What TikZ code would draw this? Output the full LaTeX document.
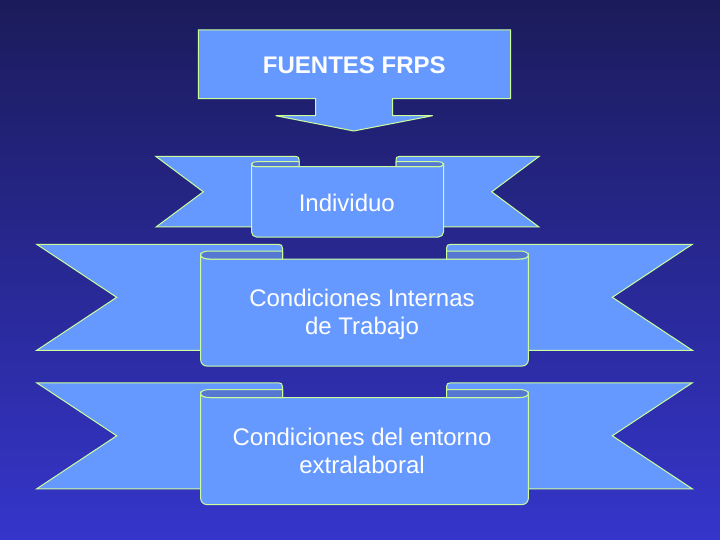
\documentclass[tikz,border=0pt]{standalone}
\usepackage{fontspec}
\setmainfont{Liberation Sans}
\definecolor{bgtop}{HTML}{1B1B5B}
\definecolor{bgmid}{HTML}{2828A4}
\definecolor{bgbot}{HTML}{3535CB}
\definecolor{ribfill}{HTML}{6699FF}
\definecolor{ribfold}{HTML}{5579D2}
\definecolor{ribline}{HTML}{CCFF99}
\tikzset{
  shp/.style={fill=ribfill, draw=ribline, line width=1pt, line join=miter},
  foldsty/.style={shp, fill=ribfold},
  lbl/.style={text=white, font=\fontsize{24}{28.3}\selectfont, align=center, inner sep=0pt}
}
\newcommand\drawribbon{%
  % tails
  \draw[shp] (\xL,\tT) -- ({\fIL-\cc},\tT) .. controls ({\fIL-0.3*\cc},\tT) and (\fIL,{\tT+0.3*\cc}) .. (\fIL,{\tT+\cc})
     -- (\fIL,\tB) -- (\xL,\tB) -- ({\xL+\ins},\ny) -- cycle;
  \draw[shp] (\xR,\tT) -- ({\fIR+\cc},\tT) .. controls ({\fIR+0.3*\cc},\tT) and (\fIR,{\tT+0.3*\cc}) .. (\fIR,{\tT+\cc})
     -- (\fIR,\tB) -- (\xR,\tB) -- ({\xR-\ins},\ny) -- cycle;
  % panel
  \draw[shp] (\pL,\pM) -- (\pL,{\pB-\rc}) .. controls (\pL,{\pB-0.45*\rc}) and ({\pL+0.45*\rc},\pB) .. ({\pL+\rc},\pB)
     -- ({\pR-\rc},\pB) .. controls ({\pR-0.45*\rc},\pB) and (\pR,{\pB-0.45*\rc}) .. (\pR,{\pB-\rc})
     -- (\pR,\pM) .. controls (\pR,{\pM+0.6*\hh}) and ({\pR-0.4*\aa},\pT) .. ({\pR-\aa},\pT)
     -- ({\pL+\aa},\pT) .. controls ({\pL+0.4*\aa},\pT) and (\pL,{\pM+0.6*\hh}) .. (\pL,\pM) -- cycle;
  % folds
  \draw[foldsty] (\fIL,\pT) -- (\fIL,\fT) -- ({\pL+\aa},\fT) .. controls ({\pL+0.4*\aa},\fT) and (\pL,{\pM-0.6*\hh}) .. (\pL,\pM)
     .. controls (\pL,{\pM+0.6*\hh}) and ({\pL+0.4*\aa},\pT) .. ({\pL+\aa},\pT) -- cycle;
  \draw[foldsty] (\fIR,\pT) -- (\fIR,\fT) -- ({\pR-\aa},\fT) .. controls ({\pR-0.4*\aa},\fT) and (\pR,{\pM-0.6*\hh}) .. (\pR,\pM)
     .. controls (\pR,{\pM+0.6*\hh}) and ({\pR-0.4*\aa},\pT) .. ({\pR-\aa},\pT) -- cycle;
}
\begin{document}
\begin{tikzpicture}[x=1pt,y=-1pt]
\shade[top color=bgtop, middle color=bgmid, bottom color=bgbot] (0,0) rectangle (720,540);
\useasboundingbox (0,0) rectangle (720,540);

% top callout
\draw[shp] (198.3,30) -- (510.7,30) -- (510.7,98.7) -- (392.7,98.7) -- (392.7,115.7) -- (432.7,115.7)
  -- (353.8,131) -- (275.7,115.7) -- (315.7,115.7) -- (315.7,98.7) -- (198.3,98.7) -- cycle;
\node[lbl, font=\fontsize{24}{28.3}\selectfont\bfseries, anchor=base] (fuentes) at (354.3,73.3) {FUENTES FRPS};

% ribbon 1
\def\xL{156}\def\xR{539}\def\pL{251.5}\def\pR{443.5}\def\fIL{299}\def\fIR{396}\def\ins{47.3}
\def\tT{156.5}\def\fT{161.7}\def\pT{166.7}\def\pM{164.2}\def\hh{2.5}\def\tB{227}\def\pB{237}\def\ny{191.8}
\def\aa{6}\def\cc{3}\def\rc{5}
\drawribbon
\node[lbl, anchor=base] (individuo) at (346.8,211.7) {Individuo};

% ribbon 2
\def\xL{36.7}\def\xR{692.3}\def\pL{200.7}\def\pR{528.3}\def\fIL{282.5}\def\fIR{446.5}\def\ins{80}
\def\tT{244.3}\def\fT{251}\def\pT{259}\def\pM{255}\def\hh{4}\def\tB{350.3}\def\pB{366}\def\ny{297.3}
\def\aa{9}\def\cc{4}\def\rc{6}
\drawribbon
\node[lbl] (internas) at (362,314.6) {Condiciones Internas\\de Trabajo};

% ribbon 3
\def\tT{382.8}\def\fT{389.5}\def\pT{397.5}\def\pM{393.5}\def\tB{488.8}\def\pB{504.5}\def\ny{435.8}
\drawribbon
\node[lbl] (entorno) at (362,451.2) {Condiciones del entorno\\extralaboral};
\end{tikzpicture}
\end{document}
